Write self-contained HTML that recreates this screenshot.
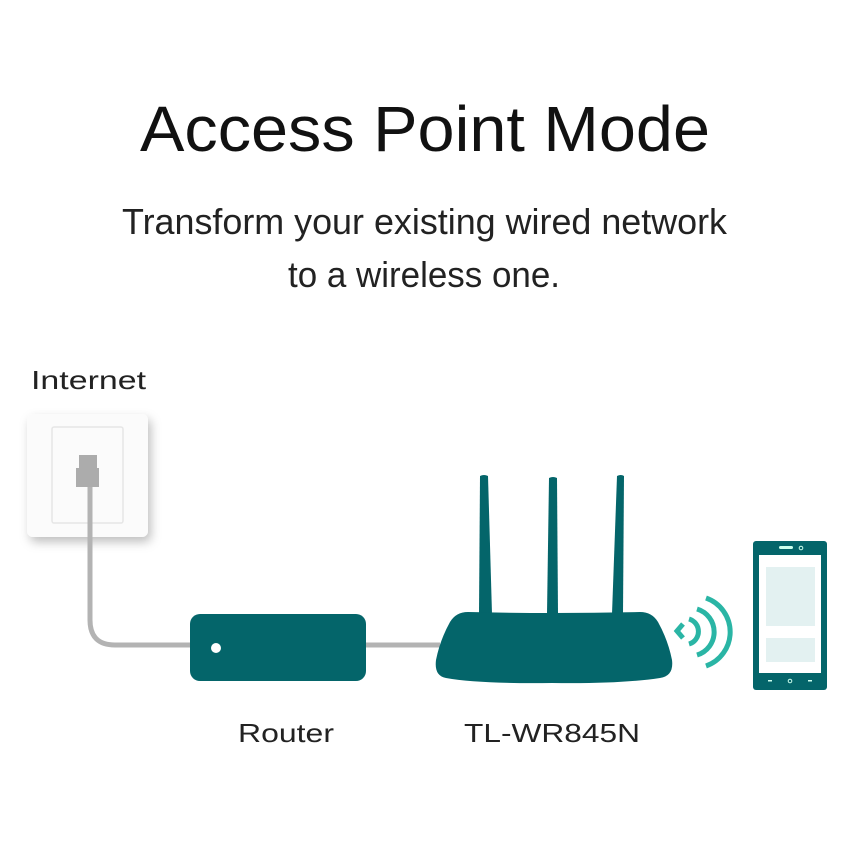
<!DOCTYPE html>
<html><head><meta charset="utf-8"><style>html,body{margin:0;padding:0;background:#fff}svg{display:block}</style></head>
<body>
<svg width="850" height="850" viewBox="0 0 850 850" xmlns="http://www.w3.org/2000/svg" font-family="Liberation Sans, sans-serif">
<defs>
<filter id="sh" x="-30%" y="-30%" width="160%" height="160%"><feDropShadow dx="3" dy="5" stdDeviation="5" flood-color="#000" flood-opacity="0.25"/></filter>
</defs>
<rect width="850" height="850" fill="#fff"/>
<text x="140" y="151" font-size="64" fill="#111" textLength="570" lengthAdjust="spacingAndGlyphs">Access Point Mode</text>
<text x="122" y="234" font-size="36" fill="#222" textLength="605" lengthAdjust="spacingAndGlyphs">Transform your existing wired network</text>
<text x="288" y="287" font-size="36" fill="#222" textLength="272" lengthAdjust="spacingAndGlyphs">to a wireless one.</text>
<text x="31" y="389" font-size="26" fill="#222" textLength="115" lengthAdjust="spacingAndGlyphs">Internet</text>
<text x="238" y="742" font-size="26" fill="#222" textLength="96" lengthAdjust="spacingAndGlyphs">Router</text>
<text x="464" y="742" font-size="26" fill="#222" textLength="176" lengthAdjust="spacingAndGlyphs">TL-WR845N</text>
<rect x="27" y="414" width="121" height="123" rx="6" fill="#fbfbfb" filter="url(#sh)"/>
<rect x="52" y="427" width="71" height="96" rx="2" fill="#fbfbfb" stroke="#e6e6e6" stroke-width="1.5"/>
<path d="M90 487 V620 Q90 645 115 645 H440" fill="none" stroke="#b3b3b3" stroke-width="5"/>
<rect x="79" y="455" width="18" height="14" fill="#acacac"/>
<rect x="76" y="468" width="23" height="19" fill="#acacac"/>
<rect x="190" y="614" width="176" height="67" rx="10" fill="#04656a"/>
<circle cx="216" cy="648" r="5" fill="#fff"/>
<path d="M480 476 Q484 474 488 476 L492 614 H479 Z" fill="#04656a"/>
<path d="M549 478 Q553 476 557 478 L558 614 H547 Z" fill="#04656a"/>
<path d="M617 476 Q621 474 624 476 L623 614 H612 Z" fill="#04656a"/>
<path d="M468 612 Q552 614 640 612 Q652 612 658 622 Q668 640 672 660 Q674 676 660 678 Q620 684 552 683 Q480 684 446 678 Q434 676 436 660 Q440 640 450 622 Q456 612 468 612 Z" fill="#04656a"/>
<path d="M683 624 L677 631 L683 638" fill="none" stroke="#2ab5a5" stroke-width="5"/>
<path d="M689 619 A13 13 0 0 1 689 644" fill="none" stroke="#2ab5a5" stroke-width="5"/>
<path d="M697 609 A24 24 0 0 1 697 655" fill="none" stroke="#2ab5a5" stroke-width="5"/>
<path d="M706 598 A36 36 0 0 1 706 666" fill="none" stroke="#2ab5a5" stroke-width="5"/>
<rect x="753" y="541" width="74" height="149" rx="3" fill="#04656a"/>
<rect x="759" y="555" width="62" height="118" fill="#fff"/>
<rect x="766" y="567" width="49" height="59" fill="#e3f1f1"/>
<rect x="766" y="638" width="49" height="24" fill="#e3f1f1"/>
<rect x="779" y="546" width="14" height="3" rx="1.5" fill="#cfe"/>
<circle cx="801" cy="548" r="1.8" fill="none" stroke="#cfe" stroke-width="1"/>
<rect x="768" y="680" width="4" height="1.5" fill="#cfe"/>
<circle cx="790" cy="681" r="1.8" fill="none" stroke="#cfe" stroke-width="1"/>
<rect x="808" y="680" width="4" height="1.5" fill="#cfe"/>
</svg>
</body></html>
